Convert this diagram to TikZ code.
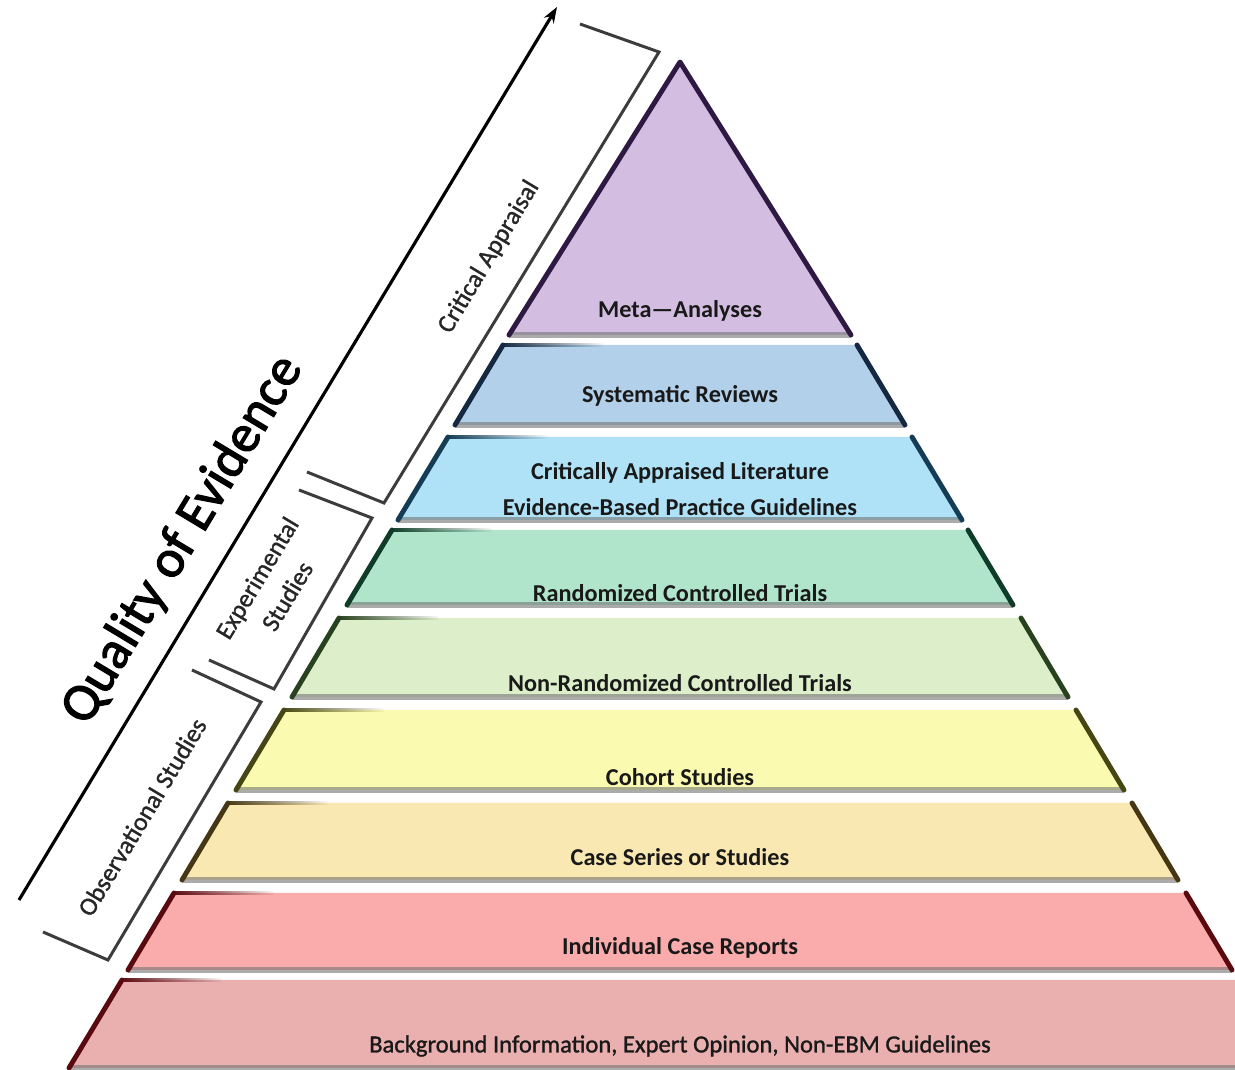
\documentclass[tikz,border=0pt]{standalone}
\usepackage{fontspec}
\setmainfont{Carlito}
\newfontfamily\sidefont[FakeBold=1.2]{Carlito}
\newfontfamily\titlefont[FakeBold=2.2]{Carlito}
\usetikzlibrary{arrows.meta,fadings}

\definecolor{metafill}{RGB}{211,190,226}
\definecolor{metaedge}{RGB}{45,25,65}
\definecolor{sysfill}{RGB}{178,208,233}
\definecolor{sysedge}{RGB}{20,40,65}
\definecolor{critfill}{RGB}{176,226,247}
\definecolor{critedge}{RGB}{20,60,85}
\definecolor{rctfill}{RGB}{176,229,204}
\definecolor{rctedge}{RGB}{15,60,40}
\definecolor{nrctfill}{RGB}{220,238,202}
\definecolor{nrctedge}{RGB}{40,65,30}
\definecolor{cohfill}{RGB}{250,250,176}
\definecolor{cohedge}{RGB}{70,70,20}
\definecolor{casefill}{RGB}{250,232,178}
\definecolor{caseedge}{RGB}{70,55,20}
\definecolor{indfill}{RGB}{250,172,172}
\definecolor{indedge}{RGB}{90,10,15}
\definecolor{bgfill}{RGB}{234,176,176}
\definecolor{bgedge}{RGB}{90,10,15}
\definecolor{brackgray}{RGB}{60,60,60}

\tikzset{
  tieredge/.style={line width=2.8pt, line join=round, line cap=round},
  tierbase/.style={line width=3pt, draw=black!55, draw opacity=0.6},
  tiertail/.style={line width=2.2pt, path fading=east},
  tierlabel/.style={font=\fontsize{13.8}{20}\selectfont\bfseries, text=black!90, align=center},
  sidelabel/.style={font=\sidefont\fontsize{14.5}{20}\selectfont, text=black!85, rotate=59, align=center},
  bracket/.style={draw=brackgray, line width=1.7pt, line join=miter},
}

\begin{document}
\begin{tikzpicture}[x=0.02cm, y=-0.02cm]
    \useasboundingbox (0,0) rectangle (1235,1070);
    \begin{scope}
        \clip (0,0) rectangle (1235,1070);
        % tiers of the pyramid
        \fill [metafill] (680,62) -- (851,335) -- (509,335) -- cycle;
        \draw [tierbase] (509,335) -- (851,335);
        \draw [tieredge, metaedge] (509,335) -- (680,62) -- (851,335);

        \fill [sysfill] (503,345) -- (857,345) -- (905,425) -- (455,425) -- cycle;
        \draw [tierbase] (455,425) -- (905,425);
        \draw [tieredge, sysedge] (503,345) -- (455,425) (857,345) -- (905,425);
        \draw [tiertail, sysedge] (503,345) -- (603,345);

        \fill [critfill] (448,437) -- (912,437) -- (962,520) -- (398,520) -- cycle;
        \draw [tierbase] (398,520) -- (962,520);
        \draw [tieredge, critedge] (448,437) -- (398,520) (912,437) -- (962,520);
        \draw [tiertail, critedge] (448,437) -- (548,437);

        \fill [rctfill] (392,530) -- (968,530) -- (1013,605) -- (347,605) -- cycle;
        \draw [tierbase] (347,605) -- (1013,605);
        \draw [tieredge, rctedge] (392,530) -- (347,605) (968,530) -- (1013,605);
        \draw [tiertail, rctedge] (392,530) -- (492,530);

        \fill [nrctfill] (339,618) -- (1021,618) -- (1068,697) -- (292,697) -- cycle;
        \draw [tierbase] (292,697) -- (1068,697);
        \draw [tieredge, nrctedge] (339,618) -- (292,697) (1021,618) -- (1068,697);
        \draw [tiertail, nrctedge] (339,618) -- (439,618);

        \fill [cohfill] (284,710) -- (1076,710) -- (1124,790) -- (236,790) -- cycle;
        \draw [tierbase] (236,790) -- (1124,790);
        \draw [tieredge, cohedge] (284,710) -- (236,790) (1076,710) -- (1124,790);
        \draw [tiertail, cohedge] (284,710) -- (384,710);

        \fill [casefill] (228,803) -- (1132,803) -- (1178,880) -- (182,880) -- cycle;
        \draw [tierbase] (182,880) -- (1178,880);
        \draw [tieredge, caseedge] (228,803) -- (182,880) (1132,803) -- (1178,880);
        \draw [tiertail, caseedge] (228,803) -- (328,803);

        \fill [indfill] (174,893) -- (1186,893) -- (1232,970) -- (128,970) -- cycle;
        \draw [tierbase] (128,970) -- (1232,970);
        \draw [tieredge, indedge] (174,893) -- (128,970) (1186,893) -- (1232,970);
        \draw [tiertail, indedge] (174,893) -- (274,893);

        \fill [bgfill] (122,980) -- (1238,980) -- (1291,1068) -- (69,1068) -- cycle;
        \draw [tierbase] (69,1068) -- (1291,1068);
        \draw [tieredge, bgedge] (122,980) -- (69,1068) (1238,980) -- (1291,1068);
        \draw [tiertail, bgedge] (122,980) -- (222,980);
    \end{scope}

    \node [tierlabel] (meta) at (680,311) {Meta---Analyses};
    \node [tierlabel] (sysrev) at (680,396) {Systematic Reviews};
    \node [tierlabel] (critlit) at (680,489) {Critically Appraised Literature\\Evidence-Based Practice Guidelines};
    \node [tierlabel] (rct) at (680,593) {Randomized Controlled Trials};
    \node [tierlabel] (nrct) at (680,683) {Non-Randomized Controlled Trials};
    \node [tierlabel] (cohort) at (680,777) {Cohort Studies};
    \node [tierlabel] (caseser) at (680,857) {Case Series or Studies};
    \node [tierlabel] (indiv) at (680,948) {Individual Case Reports};
    \node [tierlabel, font=\sidefont\fontsize{14}{20}\selectfont] (backgr) at (680,1046) {Background Information, Expert Opinion, Non-EBM Guidelines};

    % brackets along the left side
    \draw [bracket] (580,24) -- (659,52) -- (384,503) -- (307,472);
    \draw [bracket] (299,490) -- (372,518) -- (274,689) -- (209,660);
    \draw [bracket] (192,670) -- (261,702) -- (108,960) -- (43,932);
    \node [sidelabel] (critapp) at (489,257) {Critical Appraisal};
    \node [sidelabel] (expstud) at (272,587) {Experimental\\Studies};
    \node [sidelabel] (obsstud) at (142,817) {Observational Studies};

    \coordinate (arrowfoot) at (19,900);
    \coordinate (arrowtip) at (557,7);
    \draw [line width=1.8pt, -{Stealth[length=9pt,width=6.5pt]}] (arrowfoot) -- (arrowtip);
    \node [sidelabel, font=\titlefont\fontsize{30.5}{34}\selectfont, text=black] (quality) at (183,540) {Quality of Evidence};
\end{tikzpicture}
\end{document}
